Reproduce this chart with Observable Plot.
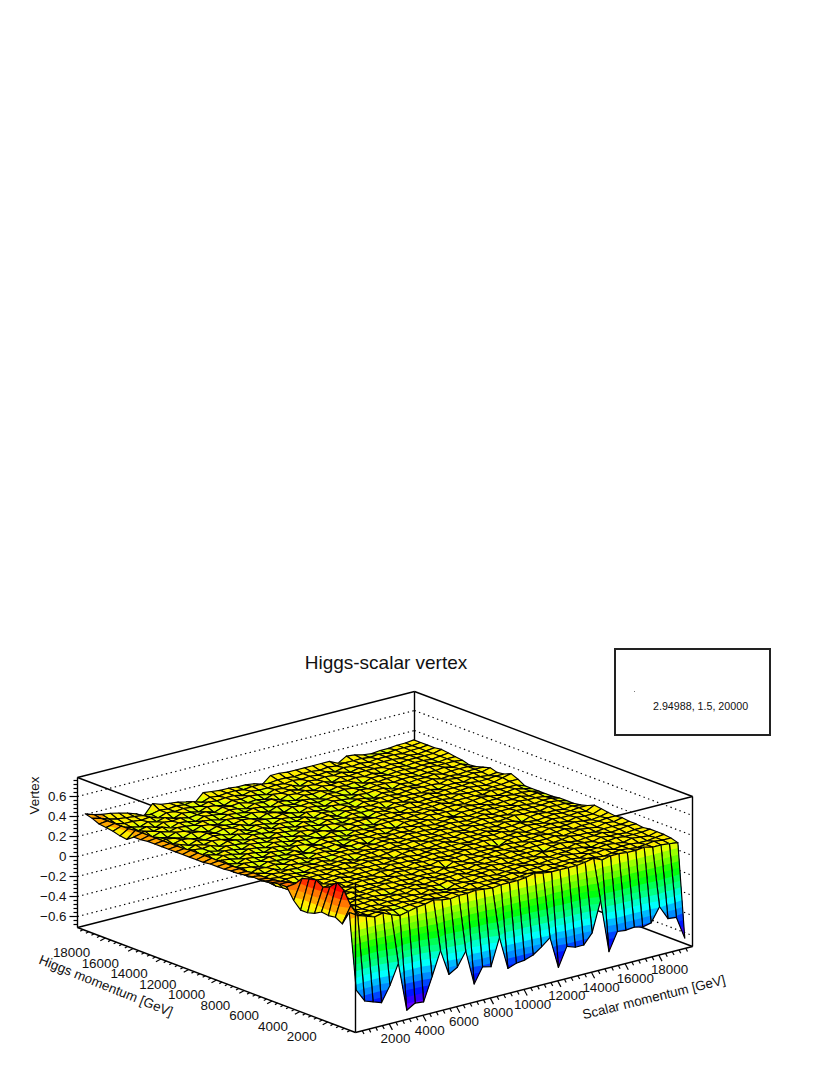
<!DOCTYPE html>
<html>
<head>
<meta charset="utf-8">
<script src="https://cdn.jsdelivr.net/npm/d3@7"></script>
<script src="https://cdn.jsdelivr.net/npm/@observablehq/plot@0.6"></script>
<style>
html,body{margin:0;padding:0;background:#fff;width:830px;height:1075px;overflow:hidden;font-family:"Liberation Sans",Arial,sans-serif;}
#wrap{position:relative;width:830px;height:1075px;}
#wrap svg{display:block;position:absolute;left:0;top:0;}
#title{position:absolute;left:0;width:772px;top:652px;text-align:center;font-size:19px;line-height:22px;color:#111;}
#box{position:absolute;left:614px;top:648px;width:153px;height:84px;border:2px solid #222;box-sizing:content-box;}
#boxText{position:absolute;left:37px;top:50px;font-size:10.7px;line-height:13px;color:#111;white-space:nowrap;}
#boxDot{position:absolute;left:18px;top:41px;width:1px;height:1px;background:#777;}
</style>
</head>
<body>
<div id="wrap">
<div id="title">Higgs-scalar vertex</div>
<div id="box"><div id="boxDot"></div><div id="boxText">2.94988, 1.5, 20000</div></div>
</div>
<script>
// Axis ranges and labels
const momentumRange = [0, 20000];
const vertexRange = [-0.71, 0.79];
const binCentresStart = 250, binWidth = 500;
const vertexTicks = [-0.6, -0.4, -0.2, 0, 0.2, 0.4, 0.6];
const momentumTicks = [2000, 4000, 6000, 8000, 10000, 12000, 14000, 16000, 18000];
const colourLimits = [-0.64, 0.63];

// Vertex value x 100; each row is one Higgs momentum bin (front to back), each column one Scalar bin
const vertexRows = [
[-31,-44,-47,-50,-35,-15,-64,-59,-60,-37,-13,-39,-34,-20,-55,-40,-42,-15,-48,-45,-44,-41,-35,-28,-60,-41,-44,-44,-34,-4,-57,-39,-40,-39,-41,-39,-25,-39,-40,-63],
[44,39,36,33,35,31,28,30,32,33,35,33,32,33,33,34,33,32,33,33,33,34,36,34,33,33,33,33,34,36,32,34,34,33,33,34,32,32,31,30],
[30,46,35,32,33,33,31,31,32,32,33,32,31,33,32,32,31,32,32,33,31,32,33,32,31,32,32,33,32,33,32,31,32,33,32,31,32,33,32,32],
[34,59,37,32,32,31,32,31,32,31,32,33,32,31,32,31,33,32,32,31,32,33,31,32,32,33,31,32,32,31,33,32,33,31,32,32,31,31,32,33],
[33,64,40,32,31,32,31,32,31,32,32,31,33,31,29,32,32,31,33,32,31,32,32,33,32,31,32,32,33,32,31,32,32,33,32,31,33,32,31,33],
[34,57,38,32,32,32,33,31,32,32,31,33,32,32,31,33,31,32,32,32,33,31,32,32,31,32,33,31,32,32,33,32,30,32,32,33,32,32,32,33],
[30,54,36,32,31,33,32,32,31,30,32,32,33,31,32,32,32,33,31,32,32,33,32,31,32,32,31,33,32,32,31,33,32,31,33,32,32,31,32,32],
[28,59,38,32,33,31,32,32,33,32,31,32,31,32,33,31,32,32,32,31,33,32,32,33,31,32,32,32,29,32,33,32,31,32,32,33,31,32,33,33],
[28,57,37,32,31,32,33,31,32,32,33,32,32,31,32,32,31,33,32,32,32,31,33,32,32,33,31,32,32,32,31,32,33,32,32,31,32,32,32,33],
[35,55,36,32,32,32,31,33,32,32,31,32,33,32,31,33,32,32,29,33,31,32,32,32,33,32,32,31,33,32,32,33,31,32,33,32,31,33,32,34],
[46,47,35,32,32,33,32,31,32,33,32,32,31,33,32,32,32,31,33,32,32,33,31,32,32,32,33,32,31,32,33,32,32,33,31,32,32,32,33,33],
[46,46,34,31,32,31,33,32,31,32,32,31,33,32,32,31,33,32,32,32,31,32,33,32,32,31,28,32,33,32,32,31,33,32,32,33,32,31,32,34],
[45,44,33,32,30,32,31,32,33,31,32,32,32,31,33,32,32,31,32,33,32,32,31,33,32,33,32,31,32,33,31,32,32,33,32,31,33,32,32,35],
[44,43,33,31,32,32,32,31,32,32,31,33,32,32,31,32,33,32,31,32,33,32,32,32,31,32,33,32,33,31,32,33,32,31,33,32,32,33,32,36],
[43,42,32,32,31,29,32,32,31,33,32,31,32,33,32,32,30,32,33,32,31,32,33,31,32,32,32,33,31,32,32,33,32,31,32,33,32,32,33,33],
[43,42,33,30,32,32,31,32,32,31,32,33,31,32,32,31,32,33,32,31,32,33,32,32,31,33,32,32,32,31,33,32,29,32,33,32,32,31,32,31],
[42,42,32,32,31,32,31,30,32,32,31,32,32,29,32,32,33,31,32,32,33,31,32,32,32,32,31,33,32,32,31,32,33,32,32,31,33,32,32,30],
[41,41,33,30,32,31,32,31,32,31,32,30,32,32,31,32,31,32,33,31,32,32,32,31,33,32,32,31,32,33,32,32,31,33,32,32,32,33,32,30],
[41,41,31,32,30,32,29,32,31,30,32,31,31,32,32,30,32,31,32,32,31,33,32,32,31,32,33,32,31,32,33,31,32,32,33,32,31,32,32,30],
[40,41,32,29,32,31,32,30,32,32,29,32,32,30,32,31,32,29,32,31,32,32,31,33,32,31,32,33,32,31,32,33,32,32,31,33,32,32,31,29],
[40,41,30,32,31,29,32,31,30,32,31,30,32,31,32,29,32,32,31,32,30,32,32,31,32,33,31,32,30,32,32,32,33,31,32,32,33,31,32,29],
[40,41,31,30,32,31,30,32,31,30,32,28,32,31,32,31,30,32,31,32,32,31,29,32,32,31,33,32,32,31,33,32,31,32,32,33,32,32,31,29],
[39,41,33,31,29,32,31,29,32,31,30,32,31,29,32,32,31,29,32,31,31,32,32,32,31,32,32,33,31,32,32,31,32,33,32,31,32,33,31,29],
[39,41,30,32,31,29,32,31,29,32,31,29,32,31,31,29,32,31,30,32,31,29,32,31,32,32,31,32,32,33,31,32,32,32,31,33,32,32,32,29],
[39,41,32,29,32,31,29,32,31,29,32,31,29,32,30,32,31,29,32,31,32,32,31,32,32,30,32,31,32,32,32,31,33,32,32,31,32,32,33,33],
[39,41,31,32,30,32,31,29,32,31,30,32,31,29,32,31,29,32,31,30,32,31,29,32,31,32,32,33,31,32,32,32,31,32,33,32,31,32,34,36],
[39,40,33,29,31,29,32,31,30,32,31,29,32,31,30,32,31,29,32,31,30,32,31,31,32,29,32,31,32,32,33,31,32,32,32,33,32,32,33,33],
[39,40,30,32,31,32,29,32,31,29,32,31,30,32,31,29,32,30,31,32,29,32,31,32,31,32,31,32,32,32,31,32,30,32,32,31,33,32,31,32],
[39,40,32,29,32,30,32,31,29,32,30,31,32,29,32,31,30,32,29,32,31,30,32,29,32,31,32,32,31,32,33,32,32,31,33,32,32,33,32,34],
[39,40,31,32,29,32,30,32,31,29,32,29,32,31,29,32,31,29,32,31,30,32,31,30,32,31,29,32,31,32,32,31,32,33,31,32,31,32,32,32],
[39,40,33,30,32,31,29,32,30,32,31,32,29,32,31,30,32,31,29,32,31,29,32,31,30,32,31,32,32,29,32,31,32,32,33,31,32,32,32,30],
[38,40,30,32,31,29,32,31,29,32,31,30,32,31,29,32,31,29,32,31,32,30,31,32,31,29,32,31,32,32,31,32,32,31,32,32,33,31,32,29],
[38,40,31,31,29,32,31,29,32,31,29,32,31,30,32,31,29,32,31,30,32,31,29,32,31,32,31,30,32,31,32,32,32,31,32,33,32,32,32,31],
[33,40,33,29,32,30,32,31,30,32,31,29,32,31,30,32,31,29,32,31,29,32,31,32,30,32,31,32,29,32,32,31,32,32,31,32,32,31,32,32],
[34,39,31,32,30,32,29,32,31,29,32,31,30,32,31,29,32,31,32,29,32,31,32,30,32,31,32,31,32,31,32,30,32,32,31,32,32,31,32,33],
[36,39,33,30,32,29,32,31,32,30,31,32,29,32,31,32,30,31,29,32,31,32,30,32,31,32,29,32,31,32,32,32,31,32,31,32,32,32,32,34],
[37,39,33,31,29,32,30,32,29,32,31,29,32,31,29,32,31,32,31,29,32,31,32,29,32,31,32,31,32,30,32,31,32,32,32,31,32,31,32,33],
[38,39,34,32,32,31,32,29,32,31,32,31,30,32,31,32,32,30,32,31,31,32,31,32,31,32,31,32,30,32,31,32,31,32,32,32,31,32,32,33],
[41,39,36,34,33,32,31,30,32,31,32,31,32,29,32,31,32,32,31,32,32,31,32,32,31,32,32,31,32,31,32,32,32,31,32,31,32,32,32,33],
[43,40,38,37,35,33,30,26,36,33,32,31,29,26,34,33,32,32,31,31,30,27,34,34,33,33,33,33,33,33,29,34,33,31,30,31,31,32,32,33]
];

// Oblique view of the box: where the axes run on the page
const origin = {x: 355, y: 1032};
const scalarRun = {x: 337, y: -86};
const higgsRun = {x: -278, y: -105};
const vertexPxPerUnit = -100;

const span = momentumRange[1] - momentumRange[0];
const viewX = (s, h) => origin.x + s / span * scalarRun.x + h / span * higgsRun.x;
const viewY = (s, h, v) => origin.y + s / span * scalarRun.y + h / span * higgsRun.y + (v - vertexRange[0]) * vertexPxPerUnit;

// ROOT "pretty" palette, twenty contour bands
const nBands = 20;
const bandStep = (colourLimits[1] - colourLimits[0]) / nBands;
const bandFloor = k => colourLimits[0] + k * bandStep;
const bandColour = k => {
  const idx = Math.floor((k + 0.99) * 50 / nBands);
  const hue = 280 - (idx + 1) * 5.6;
  return d3.hsl(Math.max(hue, 0), 1, 0.5).formatHex();
};

function clipAbove(poly, level) {
  const out = [];
  for (let n = 0; n < poly.length; n++) {
    const a = poly[n], b = poly[(n + 1) % poly.length];
    if (a[2] >= level) out.push(a);
    if ((a[2] >= level) !== (b[2] >= level)) {
      const t = (level - a[2]) / (b[2] - a[2]);
      out.push([a[0] + t * (b[0] - a[0]), a[1] + t * (b[1] - a[1]), level]);
    }
  }
  return out;
}

// Back to front: every facet paints its contour bands and then its outline
const paths = [];
let pid = 0;
const pushPath = (poly, fill, stroke) => {
  const id = pid++;
  for (const p of poly) paths.push({id, s: p[0], h: p[1], v: p[2], fill, stroke});
};
const centre = n => binCentresStart + n * binWidth;
for (let i = vertexRows.length - 2; i >= 0; i--) {
  for (let j = vertexRows[i].length - 2; j >= 0; j--) {
    const quad = [
      [centre(j), centre(i), vertexRows[i][j] / 100],
      [centre(j + 1), centre(i), vertexRows[i][j + 1] / 100],
      [centre(j + 1), centre(i + 1), vertexRows[i + 1][j + 1] / 100],
      [centre(j), centre(i + 1), vertexRows[i + 1][j] / 100]
    ];
    const lo = d3.min(quad, d => d[2]);
    const hi = d3.max(quad, d => d[2]);
    const kLo = Math.max(0, Math.min(nBands - 1, Math.floor((lo - colourLimits[0]) / bandStep)));
    const kHi = Math.max(0, Math.min(nBands - 1, Math.floor((hi - colourLimits[0]) / bandStep)));
    pushPath(quad, bandColour(kLo), "none");
    for (let k = kLo + 1; k <= kHi; k++) {
      const part = clipAbove(quad, bandFloor(k));
      if (part.length > 2) pushPath(part, bandColour(k), "none");
    }
    pushPath([...quad, quad[0]], "none", "#000");
  }
}

// Box and axis geometry, all in data coordinates
const [m0, m1] = momentumRange, [v0, v1] = vertexRange;
const seg = (a, b) => ({x1: viewX(a[0], a[1]), y1: viewY(a[0], a[1], a[2]), x2: viewX(b[0], b[1]), y2: viewY(b[0], b[1], b[2])});
const backEdges = [
  seg([m0, m1, v1], [m1, m1, v1]), seg([m1, m1, v1], [m1, m0, v1]),
  seg([m0, m1, v1], [m0, m0, v1]), seg([m0, m0, v1], [m1, m0, v1]),
  seg([m0, m1, v0], [m1, m1, v0]), seg([m1, m1, v0], [m1, m0, v0]),
  seg([m1, m1, v0], [m1, m1, v1])
];
const frontEdges = [
  seg([m0, m0, v0], [m0, m0, v1]), seg([m0, m1, v0], [m0, m1, v1]), seg([m1, m0, v0], [m1, m0, v1]),
  seg([m0, m0, v0], [m0, m1, v0]), seg([m0, m0, v0], [m1, m0, v0])
];
const gridLines = vertexTicks.flatMap(t => [seg([m0, m1, t], [m1, m1, t]), seg([m1, m1, t], [m1, m0, t])]);

const minorStep = 400;
const allMomentum = d3.range(m0 + minorStep, m1, minorStep);
const isMajor = t => t % 2000 === 0;
const higgsTicks = allMomentum.map(t => {
  const k = isMajor(t) ? 1 : 0.55, x = viewX(m0, t), y = viewY(m0, t, v0);
  return {x1: x, y1: y, x2: x - 5 * k, y2: y + 2.8 * k};
});
const scalarTickMarks = allMomentum.map(t => {
  const k = isMajor(t) ? 1 : 0.55, x = viewX(t, m0), y = viewY(t, m0, v0);
  return {x1: x, y1: y, x2: x + 3.2 * k, y2: y + 6 * k};
});
const vertexMinor = d3.range(-34, 39).filter(n => n % 2 === 0).map(n => n * 0.02);
const vertexTickMarks = vertexMinor.map(t => {
  const major = vertexTicks.some(m => Math.abs(m - t) < 1e-6);
  const y = viewY(m0, m1, t), x = viewX(m0, m1);
  return {x1: x, y1: y, x2: x - (major ? 8 : 4), y2: y};
});

const ink = "#111";
const fontFamily = '"Liberation Sans", Arial, sans-serif';
const labelSize = 13.4;
const plot = Plot.plot({
  width: 830, height: 1075, margin: 0,
  style: {background: "transparent", fontFamily},
  x: {domain: [0, 830], range: [0, 830], axis: null},
  y: {domain: [0, 1075], range: [0, 1075], axis: null},
  color: {type: "identity"},
  marks: [
    Plot.link(gridLines, {x1: "x1", y1: "y1", x2: "x2", y2: "y2", stroke: "#000", strokeWidth: 1.2, strokeDasharray: "1.4 3.4"}),
    Plot.link(backEdges, {x1: "x1", y1: "y1", x2: "x2", y2: "y2", stroke: "#000", strokeWidth: 1.4}),
    Plot.line(paths, {x: d => viewX(d.s, d.h), y: d => viewY(d.s, d.h, d.v), z: "id", fill: "fill", stroke: "stroke", strokeWidth: 1.15, curve: "linear"}),
    Plot.link(frontEdges, {x1: "x1", y1: "y1", x2: "x2", y2: "y2", stroke: "#000", strokeWidth: 1.4}),
    Plot.link(higgsTicks, {x1: "x1", y1: "y1", x2: "x2", y2: "y2", stroke: "#000", strokeWidth: 1.2}),
    Plot.link(scalarTickMarks, {x1: "x1", y1: "y1", x2: "x2", y2: "y2", stroke: "#000", strokeWidth: 1.2}),
    Plot.link(vertexTickMarks, {x1: "x1", y1: "y1", x2: "x2", y2: "y2", stroke: "#000", strokeWidth: 1.2}),
    Plot.text(vertexTicks, {x: () => viewX(m0, m1) - 11, y: t => viewY(m0, m1, t), text: t => (t === 0 ? "0" : d3.format(".1f")(t)), textAnchor: "end", fontSize: labelSize, fill: ink}),
    Plot.text(momentumTicks, {x: t => viewX(m0, t) - 26 - (t - 2000) / 16000 * 7.8, y: t => viewY(m0, t, v0) + 15, text: t => String(t), textAnchor: "middle", fontSize: labelSize, fill: ink}),
    Plot.text(momentumTicks, {x: t => viewX(t, m0) + 6.3 + (t - 2000) / 16000 * 4.4, y: t => viewY(t, m0, v0) + 15, text: t => String(t), textAnchor: "middle", fontSize: labelSize, fill: ink}),
    Plot.text(["Vertex"], {x: () => viewX(m0, m1) - 43, y: () => viewY(m0, m1, 0.6) - 1, text: d => d, rotate: -90, fontSize: labelSize, fill: ink}),
    Plot.text(["Higgs momentum [GeV]"], {x: () => viewX(m0, 14000) - 55, y: () => viewY(m0, 14000, v0) + 27, text: d => d, rotate: 22, fontSize: labelSize, fill: ink}),
    Plot.text(["Scalar momentum [GeV]"], {x: () => viewX(17000, m0) + 12, y: () => viewY(17000, m0, v0) + 38, text: d => d, rotate: -14, fontSize: labelSize, fill: ink})
  ]
});
document.getElementById("wrap").prepend(plot);
</script>
</body>
</html>
